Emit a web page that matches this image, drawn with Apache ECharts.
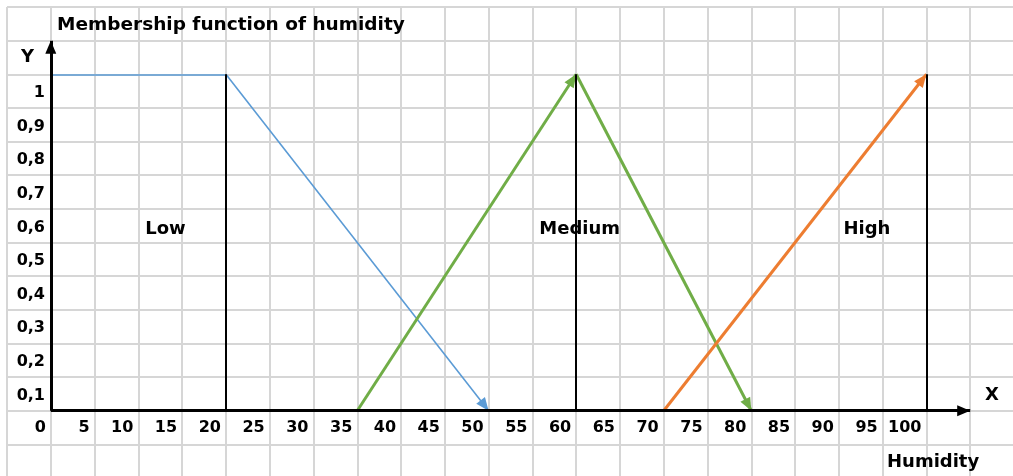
<!DOCTYPE html>
<html>
<head>
<meta charset="utf-8">
<title>Membership function of humidity</title>
<script src="https://cdn.jsdelivr.net/npm/echarts@6/dist/echarts.min.js"></script>
<style>
  html, body { margin: 0; padding: 0; background: #fff; }
  #chart { width: 1013px; height: 476px; }
</style>
</head>
<body>
<div id="chart"></div>
<script>
// humidity (%) -> membership degree
const lowPoints = [[0, 1], [20, 1], [50, 0]]
const mediumPoints = [[35, 0], [60, 1], [80, 0]]
const highPoints = [[70, 0], [100, 1]]
const setNames = ['Low', 'Medium', 'High']
const guideX = [20, 60, 100]      // black verticals at the tops
const xAxisEnd = 105              // arrow tip of X axis
const yAxisEnd = 1.1              // arrow tip of Y axis

const FONT = 'DejaVu Sans'
const txt = { fontFamily: FONT, fontWeight: 'bold', fontSize: 18, color: '#000' }
const tickTxt = { ...txt, fontSize: 16 }
const ARROW = { symbol: 'triangle', symbolSize: [11, 13], symbolOffset: [0, '50%'] }

// segments of a polyline, arrow flags per segment
const toSegments = (pts, arrows) => {
    const segs = []
    for (let i = 0; i < pts.length - 1; i++) {
        const end = { coord: pts[i + 1], symbol: 'none' }
        if (arrows[i]) Object.assign(end, ARROW)
        segs.push([{ coord: pts[i], symbol: 'none' }, end])
    }
    return segs
}

const mfSeries = (name, pts, arrows, color, width, labelAt) => ({
    name: name,
    type: 'line',
    data: [],
    silent: true,
    markLine: {
        silent: true,
        symbol: 'none',
        label: { show: false },
        emphasis: { disabled: true },
        itemStyle: { color: color },
        lineStyle: { color: color, width: width, type: 'solid' },
        data: toSegments(pts, arrows)
    },
    markPoint: {
        silent: true,
        symbol: 'circle',
        symbolSize: 0,
        label: { show: true, position: 'inside', formatter: name, ...txt },
        data: [{ coord: labelAt }]
    }
})

const chart = echarts.init(document.getElementById('chart'))

const option = {
    animation: false,
    title: [
        { text: 'Membership function of humidity', left: 57, top: 16, padding: 0, textStyle: { ...txt, fontSize: 18.5 } },
        { text: 'Y', left: 21, top: 48, padding: 0, textStyle: txt },
        { text: 'X', left: 985, top: 386, padding: 0, textStyle: txt },
        { text: 'Humidity', left: 887, top: 453, padding: 0, textStyle: txt }
    ],
    grid: { left: 7, top: 7, width: 1007, height: 471, outerBoundsMode: 'none', containLabel: false },
    xAxis: {
        type: 'value',
        min: -5,
        max: 110,
        interval: 5,
        axisLine: { show: false, onZero: false },
        axisTick: { show: false },
        splitLine: { show: true, lineStyle: { color: '#d6d6d6', width: 2 } },
        axisLabel: {
            ...tickTxt,
            align: 'right',
            verticalAlign: 'middle',
            margin: -50,
            padding: [0, 5, 0, 0],
            formatter: v => (v >= 0 && v <= 100 ? String(v) : '')
        }
    },
    yAxis: {
        type: 'value',
        min: -0.2,
        max: 1.2,
        interval: 0.1,
        axisLine: { show: false, onZero: false },
        axisTick: { show: false },
        splitLine: { show: true, lineStyle: { color: '#d6d6d6', width: 2 } },
        axisLabel: {
            ...tickTxt,
            align: 'right',
            verticalAlign: 'middle',
            lineHeight: 37,
            margin: -38,
            // label sits in the cell under its grid line: blank first line pushes it down
            formatter: v => {
                if (v < 0.05 || v > 1.05) return ''
                return '\n' + (v > 0.95 ? '1' : v.toFixed(1).replace('.', ','))
            }
        }
    },
    series: [
        mfSeries(setNames[0], lowPoints, [false, true], '#5b9bd5', 1.6, [13.1, 0.54]),
        mfSeries(setNames[1], mediumPoints, [true, true], '#70ad47', 3, [60.4, 0.54]),
        mfSeries(setNames[2], highPoints, [true], '#ed7d31', 3, [93.2, 0.54]),
        {
            name: 'axes',
            type: 'line',
            data: [],
            silent: true,
            markLine: {
                silent: true,
                label: { show: false },
                emphasis: { disabled: true },
                symbol: 'none',
                itemStyle: { color: '#000' },
                lineStyle: { color: '#000', width: 2, type: 'solid' },
                data: guideX.map(x => [{ coord: [x, 0] }, { coord: [x, 1] }]).concat([
                    [
                        { coord: [0, 0], symbol: 'none' },
                        { coord: [xAxisEnd, 0], ...ARROW, lineStyle: { width: 3 } }
                    ],
                    [
                        { coord: [0, 0], symbol: 'none' },
                        { coord: [0, yAxisEnd], ...ARROW, lineStyle: { width: 3 } }
                    ]
                ])
            }
        }
    ]
}

chart.setOption(option)
window.addEventListener('resize', () => chart.resize())
</script>
</body>
</html>
